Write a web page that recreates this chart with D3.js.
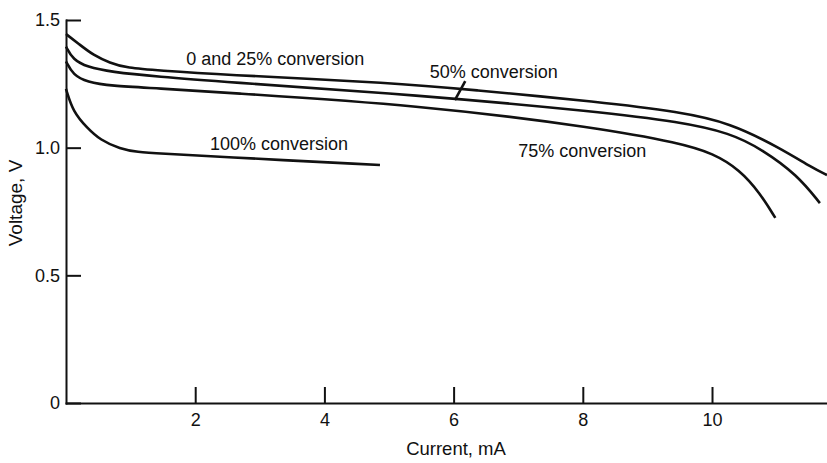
<!DOCTYPE html>
<html>
<head>
<meta charset="utf-8">
<script src="https://cdn.jsdelivr.net/npm/d3@7"></script>
<style>
  body { margin: 0; background: #fff; }
  svg { display: block; font-family: "Liberation Sans", Arial, sans-serif; }
  .axis path, .axis line { stroke: #111; stroke-width: 2; }
  .axis text { font-size: 18px; fill: #111; }
  .curve { fill: none; stroke: #111; stroke-width: 2.6; }
</style>
</head>
<body>
<svg width="827" height="463"></svg>
<script>
(function () {
    'use strict'

    // discharge curves, [current mA, voltage V]
    const conv0and25 = [[0, 1.445], [0.22, 1.402], [0.42, 1.363], [0.68, 1.332], [0.94, 1.312], [1.46, 1.302],
        [2.31, 1.287], [5.17, 1.253], [6.21, 1.228], [8.27, 1.179], [9.5, 1.14], [10.28, 1.097],
        [11.05, 0.999], [11.56, 0.92], [11.78, 0.893]];
    const conv50 = [[0, 1.396], [0.11, 1.344], [0.33, 1.316], [0.68, 1.297], [1.46, 1.277], [2.31, 1.26],
        [5.48, 1.206], [8.27, 1.14], [9.5, 1.101], [10.28, 1.058], [10.79, 0.991], [11.32, 0.893],
        [11.67, 0.783]];
    const conv75 = [[0, 1.338], [0.11, 1.285], [0.33, 1.257], [0.68, 1.242], [1.46, 1.232], [2.31, 1.218],
        [5.48, 1.167], [8.27, 1.077], [9.5, 1.018], [10.02, 0.978], [10.43, 0.913], [10.74, 0.823],
        [10.98, 0.725]];
    const conv100 = [[0, 1.23], [0.11, 1.14], [0.33, 1.077], [0.53, 1.03], [0.84, 0.995], [1.1, 0.983],
        [1.46, 0.977], [2.31, 0.965], [4.86, 0.932]];

    const xTicks = [2, 4, 6, 8, 10];
    const yTicks = [0, 0.5, 1.0, 1.5];
    const yTickLabels = ['0', '0.5', '1.0', '1.5'];

    // curve labels: text, x (mA), y (V)
    const labels = [
        ['0 and 25% conversion', 1.86, 1.324],
        ['50% conversion', 5.63, 1.273],
        ['100% conversion', 2.23, 0.991],
        ['75% conversion', 7.0, 0.964]
    ];
    // leader from "50% conversion" to its curve
    const leader = [[6.18, 1.261], [6.02, 1.186]];

    let svg = d3.select('svg');

    let x = d3.scaleLinear()
        .domain([0, 11.78])
        .range([66, 827]);

    let y = d3.scaleLinear()
        .domain([0, 1.5])
        .range([403, 20]);

    svg.append('g')
        .attr('class', 'axis axis--x')
        .attr('transform', 'translate(0,' + y(0) + ')')
        .call(d3.axisBottom(x)
            .tickValues(xTicks)
            .tickFormat(d3.format('d'))
            .tickSizeInner(-16)
            .tickSizeOuter(0)
            .tickPadding(10))
        .call(g => g.selectAll('text').attr('dy', '0.71em'));

    svg.append('g')
        .attr('class', 'axis axis--y')
        .attr('transform', 'translate(' + x(0) + ',0)')
        .call(d3.axisLeft(y)
            .tickValues(yTicks)
            .tickFormat((d, i) => yTickLabels[i])
            .tickSizeInner(-15)
            .tickSizeOuter(0)
            .tickPadding(6));

    svg.selectAll('.axis .domain').attr('stroke-linecap', 'square');

    // smooth curve through the read-off points
    let line = d3.line()
        .x(d => x(d[0]))
        .y(d => y(d[1]))
        .curve(d3.curveBasis);

    svg.selectAll('path.curve')
        .data([conv0and25, conv50, conv75, conv100])
        .enter()
        .append('path')
        .attr('class', 'curve')
        .attr('d', line);

    svg.append('path')
        .attr('class', 'curve')
        .attr('stroke-width', 1.6)
        .attr('d', d3.line().x(d => x(d[0])).y(d => y(d[1]))(leader));

    svg.selectAll('text.lbl')
        .data(labels)
        .enter()
        .append('text')
        .attr('class', 'lbl')
        .attr('x', d => x(d[1]))
        .attr('y', d => y(d[2]))
        .attr('font-size', 18)
        .attr('fill', '#111')
        .text(d => d[0]);

    // axis titles
    svg.append('text')
        .attr('x', 456)
        .attr('y', 455)
        .attr('text-anchor', 'middle')
        .attr('font-size', 18.5)
        .attr('fill', '#111')
        .text('Current, mA');

    svg.append('text')
        .attr('transform', 'translate(22,203) rotate(-90)')
        .attr('text-anchor', 'middle')
        .attr('font-size', 19)
        .attr('fill', '#111')
        .text('Voltage, V');
})();
</script>
</body>
</html>
